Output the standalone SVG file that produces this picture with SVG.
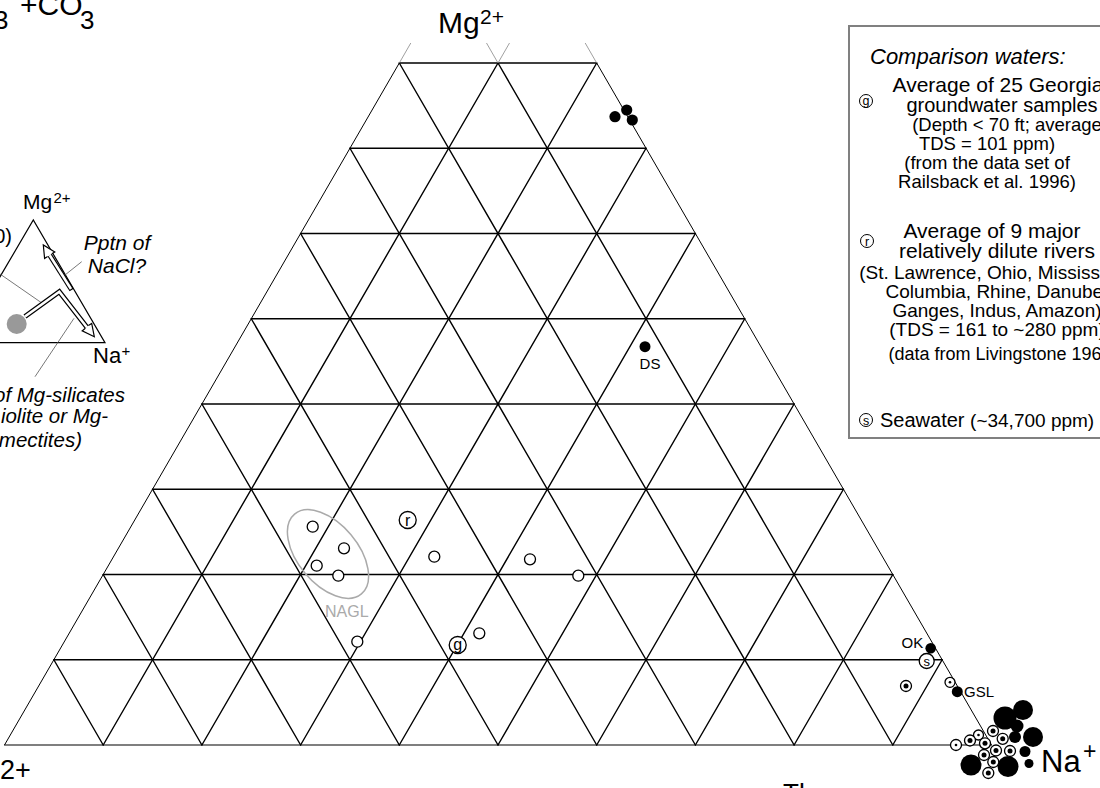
<svg xmlns="http://www.w3.org/2000/svg" width="1100" height="788" viewBox="0 0 1100 788">
<defs>
<style>
text{font-family:"Liberation Sans",Arial,sans-serif;fill:#000}
.it{font-style:italic}
.g{stroke:#000;stroke-width:1.4;fill:none;stroke-linecap:round}
.edge{stroke:#000;stroke-width:1;fill:none}
.stub{stroke:#888;stroke-width:0.8;fill:none}
.oc{fill:#fff;stroke:#000;stroke-width:1.3}
.bk{fill:#000}
.lead{stroke:#555;stroke-width:0.8;fill:none}
.lg{text-anchor:middle}
</style>
</defs>
<rect width="1100" height="788" fill="#fff"/>

<g id="grid">
<g class="g">
<line x1="53.85" y1="659.75" x2="942.15" y2="659.75"/>
<line x1="103.2" y1="574.5" x2="892.8" y2="574.5"/>
<line x1="152.55" y1="489.25" x2="843.45" y2="489.25"/>
<line x1="201.9" y1="404" x2="794.1" y2="404"/>
<line x1="251.25" y1="318.75" x2="744.75" y2="318.75"/>
<line x1="300.6" y1="233.5" x2="695.4" y2="233.5"/>
<line x1="349.95" y1="148.25" x2="646.05" y2="148.25"/>
<line x1="399.3" y1="63" x2="596.7" y2="63"/>
<line x1="103.2" y1="745" x2="498" y2="63"/>
<line x1="201.9" y1="745" x2="596.7" y2="63"/>
<line x1="300.6" y1="745" x2="646.05" y2="148.25"/>
<line x1="399.3" y1="745" x2="695.4" y2="233.5"/>
<line x1="498" y1="745" x2="744.75" y2="318.75"/>
<line x1="596.7" y1="745" x2="794.1" y2="404"/>
<line x1="695.4" y1="745" x2="843.45" y2="489.25"/>
<line x1="794.1" y1="745" x2="892.8" y2="574.5"/>
<line x1="892.8" y1="745" x2="942.15" y2="659.75"/>
<line x1="103.2" y1="745" x2="53.85" y2="659.75"/>
<line x1="201.9" y1="745" x2="103.2" y2="574.5"/>
<line x1="300.6" y1="745" x2="152.55" y2="489.25"/>
<line x1="399.3" y1="745" x2="201.9" y2="404"/>
<line x1="498" y1="745" x2="251.25" y2="318.75"/>
<line x1="596.7" y1="745" x2="300.6" y2="233.5"/>
<line x1="695.4" y1="745" x2="349.95" y2="148.25"/>
<line x1="794.1" y1="745" x2="399.3" y2="63"/>
<line x1="892.8" y1="745" x2="498" y2="63"/>
</g>
<line class="g" x1="4.5" y1="745" x2="991.5" y2="745" style="stroke-width:1.2"/>
<line class="edge" x1="4.5" y1="745" x2="399.3" y2="63"/>
<line class="edge" x1="991.5" y1="745" x2="596.7" y2="63"/>
<g class="stub">
<line x1="399.3" y1="63" x2="410.8" y2="43"/>
<line x1="498" y1="63" x2="509.5" y2="43"/>
<line x1="498" y1="63" x2="486.5" y2="43"/>
<line x1="596.7" y1="63" x2="585.2" y2="43"/>
</g>
</g>

<g id="axis-labels">
<text x="-6" y="29" font-size="26">3</text>
<text x="20" y="15" font-size="30">+CO</text>
<text x="80" y="29" font-size="26">3</text>
<text x="438" y="33" font-size="30">Mg</text>
<text x="480" y="24" font-size="21">2+</text>
<text x="1041" y="772" font-size="31">Na</text>
<text x="1083" y="759" font-size="23">+</text>
<text x="0" y="779" font-size="27">2+</text>
<text x="783" y="802" font-size="26">The</text>
</g>

<g id="nagl">
<ellipse cx="328" cy="554" rx="52" ry="30" transform="rotate(50 328 554)" fill="none" stroke="#aaa" stroke-width="1.5"/>
<text x="325" y="617" font-size="16" style="fill:#aaa">NAGL</text>
</g>

<g id="open-points">
<circle class="oc" cx="312.7" cy="526.7" r="5.5"/>
<circle class="oc" cx="344" cy="548.3" r="5.5"/>
<circle class="oc" cx="316.7" cy="565.7" r="5.5"/>
<circle class="oc" cx="338.3" cy="575.7" r="5.5"/>
<circle class="oc" cx="434.3" cy="556.7" r="5.5"/>
<circle class="oc" cx="530" cy="559.3" r="5.5"/>
<circle class="oc" cx="578.3" cy="575.7" r="5.5"/>
<circle class="oc" cx="357.3" cy="641.7" r="5.5"/>
<circle class="oc" cx="479.3" cy="633.3" r="5.5"/>
</g>

<g id="river-point">
<circle class="oc" cx="407.7" cy="520" r="8.5"/>
<text x="407.7" y="525.5" font-size="16" text-anchor="middle">r</text>
</g>
<g id="georgia-point">
<circle class="oc" cx="457.7" cy="645" r="8.5"/>
<text x="457.7" y="650" font-size="16" text-anchor="middle">g</text>
</g>

<g id="top-cluster">
<circle class="bk" cx="615" cy="116.7" r="5.6"/>
<circle class="bk" cx="626.7" cy="110" r="5.6"/>
<circle class="bk" cx="632.3" cy="120" r="5.6"/>
</g>

<g id="ds">
<circle class="bk" cx="645" cy="346.7" r="5.5"/>
<text x="650" y="369" font-size="15" text-anchor="middle">DS</text>
</g>

<g id="ok">
<circle class="bk" cx="930.7" cy="648.3" r="5.3"/>
<text x="901.5" y="648" font-size="15">OK</text>
</g>
<g id="seawater-point">
<circle class="oc" cx="926.7" cy="661" r="7.5"/>
<text x="926.7" y="665.5" font-size="13" text-anchor="middle">s</text>
</g>
<g id="gsl">
<circle class="bk" cx="957.3" cy="691.7" r="5.5"/>
<text x="964" y="697" font-size="15">GSL</text>
</g>

<g id="na-cluster">
<circle class="oc" cx="906" cy="686" r="5.5"/><circle class="bk" cx="906" cy="686" r="2.5"/>
<circle class="oc" cx="950" cy="682.3" r="5"/><circle class="bk" cx="950" cy="682.3" r="1.3"/>
<circle class="oc" cx="956" cy="745" r="5.5"/><circle class="bk" cx="956" cy="745" r="1.3"/>
<circle class="oc" cx="978.5" cy="735" r="5"/><circle class="bk" cx="978.5" cy="735" r="1.3"/>
<circle class="bk" cx="1005" cy="718" r="11.5"/>
<circle class="bk" cx="1023" cy="710" r="10"/>
<circle class="bk" cx="1017" cy="726" r="6.5"/>
<circle class="bk" cx="1033" cy="737" r="10"/>
<circle class="bk" cx="1015" cy="737" r="6"/>
<circle class="bk" cx="1025" cy="751.5" r="5.5"/>
<circle class="bk" cx="1029" cy="763.5" r="4.5"/>
<circle class="bk" cx="971" cy="765" r="10.5"/>
<circle class="bk" cx="1008" cy="766.5" r="10.5"/>
<circle class="oc" cx="993" cy="731" r="5.5"/><circle class="bk" cx="993" cy="731" r="2.5"/>
<circle class="oc" cx="1002.7" cy="738.8" r="5.5"/><circle class="bk" cx="1002.7" cy="738.8" r="2.5"/>
<circle class="oc" cx="985" cy="743.3" r="5.5"/><circle class="bk" cx="985" cy="743.3" r="2.5"/>
<circle class="oc" cx="970" cy="740.5" r="5.5"/><circle class="bk" cx="970" cy="740.5" r="2.5"/>
<circle class="oc" cx="996" cy="750.5" r="5.5"/><circle class="bk" cx="996" cy="750.5" r="2.5"/>
<circle class="oc" cx="1010" cy="751" r="5.5"/><circle class="bk" cx="1010" cy="751" r="2.5"/>
<circle class="oc" cx="984" cy="755" r="5.5"/><circle class="bk" cx="984" cy="755" r="2.5"/>
<circle class="oc" cx="993.3" cy="762" r="5.5"/><circle class="bk" cx="993.3" cy="762" r="2.5"/>
<circle class="oc" cx="988.3" cy="773" r="5.5"/><circle class="bk" cx="988.3" cy="773" r="2.5"/>
</g>

<g id="legend">
<rect x="849" y="26" width="270" height="412" fill="none" stroke="#808080" stroke-width="2"/>
<text class="it" x="870" y="64" font-size="22">Comparison waters:</text>
<circle class="oc" cx="866" cy="101" r="6.5" style="stroke-width:1"/>
<text x="866" y="105" font-size="12.5" text-anchor="middle">g</text>
<text class="lg" x="998" y="92" font-size="21">Average of 25 Georgia</text>
<text class="lg" x="1002" y="112" font-size="20">groundwater samples</text>
<text class="lg" x="1007" y="131" font-size="18.5">(Depth &lt; 70 ft; average</text>
<text class="lg" x="987" y="150" font-size="18.5">TDS = 101 ppm)</text>
<text class="lg" x="987" y="169" font-size="18.5">(from the data set of</text>
<text class="lg" x="987" y="188" font-size="18.5">Railsback et al. 1996)</text>
<circle class="oc" cx="867" cy="241" r="6.5" style="stroke-width:1"/>
<text x="867" y="245.5" font-size="12.5" text-anchor="middle">r</text>
<text class="lg" x="992" y="238" font-size="21">Average of 9 major</text>
<text class="lg" x="997" y="258" font-size="21">relatively dilute rivers</text>
<text class="lg" x="997" y="279" font-size="19">(St. Lawrence, Ohio, Mississippi,</text>
<text class="lg" x="997" y="298" font-size="19">Columbia, Rhine, Danube,</text>
<text class="lg" x="997" y="317" font-size="19">Ganges, Indus, Amazon)</text>
<text class="lg" x="997" y="336" font-size="19">(TDS = 161 to ~280 ppm)</text>
<text class="lg" x="1003" y="360" font-size="18">(data from Livingstone 1963)</text>
<circle class="oc" cx="866" cy="420" r="6.5" style="stroke-width:1"/>
<text x="866" y="424.5" font-size="12.5" text-anchor="middle">s</text>
<text x="880" y="427" font-size="20">Seawater <tspan font-size="19">(~34,700 ppm)</tspan></text>
</g>

<g id="inset">
<polyline points="-40,342.7 105,342.7 33.3,220 -40,345" fill="none" stroke="#000" stroke-width="1.2"/>
<text x="23" y="209" font-size="21">Mg</text>
<text x="53.5" y="203" font-size="15">2+</text>
<text x="93" y="363" font-size="22">Na</text>
<text x="121.5" y="356" font-size="15">+</text>
<text x="12" y="243" font-size="20" text-anchor="end">0)</text>
<circle cx="16.7" cy="324" r="10" fill="#999"/>
<g class="lead">
<line x1="81.7" y1="261.7" x2="65" y2="275"/>
<line x1="0" y1="274" x2="43.3" y2="304"/>
<line x1="35" y1="376.7" x2="74" y2="318.3"/>
</g>
<path d="M71.7,290 L49.7,255.2" stroke="#000" stroke-width="5" fill="none"/>
<path d="M71,289 L49.7,255.2" stroke="#fff" stroke-width="2.6" fill="none"/>
<polyline points="51.8,253.8 54.8,251.9 43.3,245 44.6,258.4 47.6,256.5" fill="#fff" stroke="#000" stroke-width="1.2"/>
<path d="M25,316.5 L59.3,291.7 L86.9,327.2" stroke="#000" stroke-width="5" fill="none" stroke-linejoin="miter"/>
<path d="M25,316.5 L59.3,291.7 L86.9,327.2" stroke="#fff" stroke-width="2.6" fill="none" stroke-linejoin="miter"/>
<polyline points="88.4,325.6 91.7,323.5 94.3,336.7 82.2,330.9 85.4,328.3" fill="#fff" stroke="#000" stroke-width="1.2"/>
<text class="it" x="117" y="250" font-size="21" text-anchor="middle">Pptn of</text>
<text class="it" x="117" y="273" font-size="21" text-anchor="middle">NaCl?</text>
<text class="it" x="125" y="401.7" font-size="20.5" text-anchor="end">of Mg-silicates</text>
<text class="it" x="108" y="423.3" font-size="20.5" text-anchor="end">iolite or Mg-</text>
<text class="it" x="82" y="446.7" font-size="20.5" text-anchor="end">mectites)</text>
</g>
</svg>
